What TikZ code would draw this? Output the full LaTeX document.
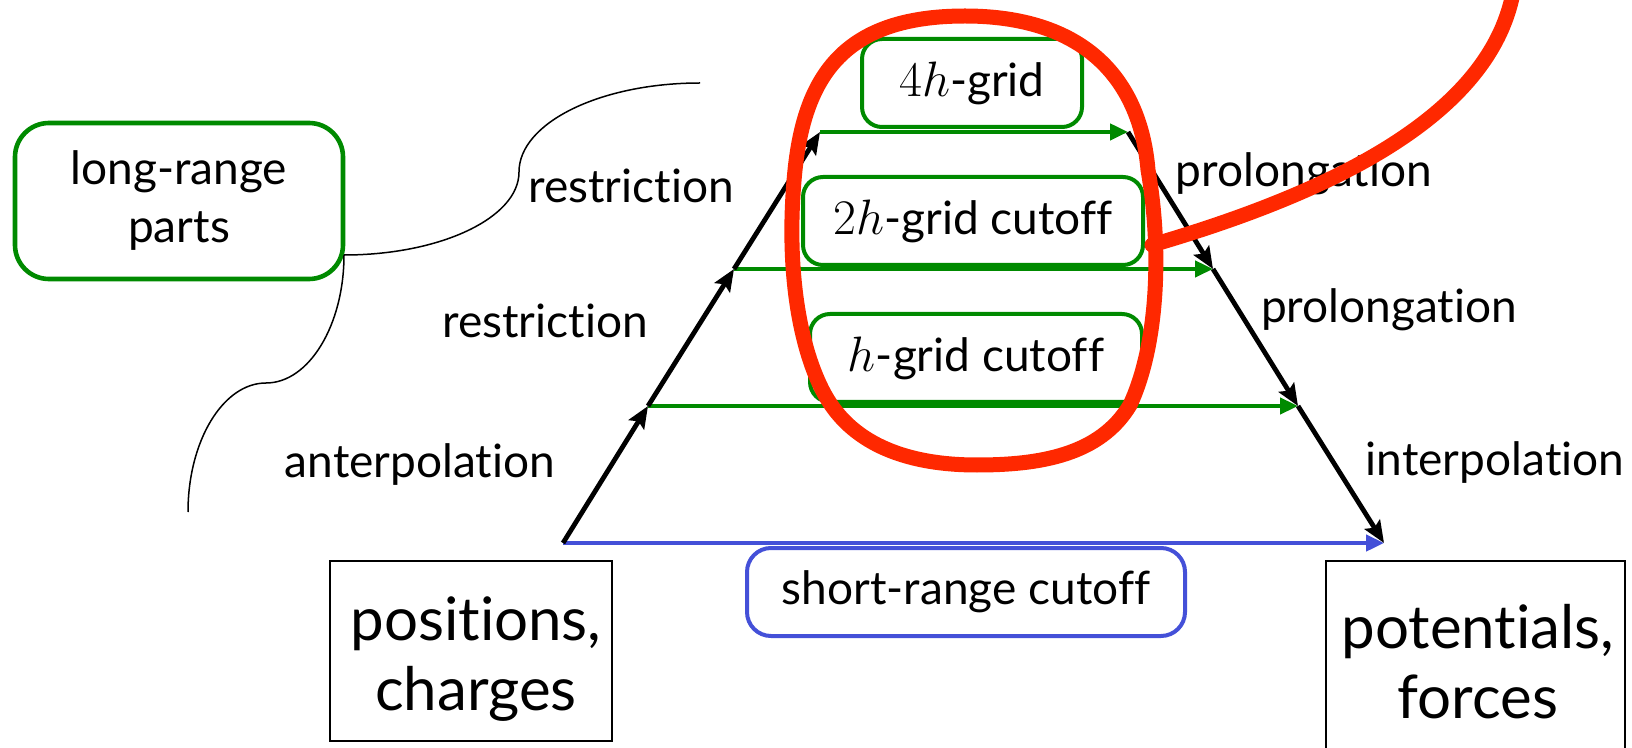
\documentclass[tikz,border=0pt]{standalone}
\usepackage{fontspec}
\setmainfont[Ligatures={NoCommon}]{Lato}
\usetikzlibrary{arrows.meta}
\definecolor{grn}{RGB}{0,138,0}
\definecolor{blu}{RGB}{68,80,216}
\definecolor{rd}{RGB}{255,40,0}
\newcommand\lblfont{\fontsize{23}{29}\selectfont}
\newcommand\bigfont{\fontsize{30}{35}\selectfont}
\begin{document}
\begin{tikzpicture}[x=0.5pt,y=-0.5pt,
  arr/.style={line width=2.4pt,-{Stealth[length=11pt,width=9pt,inset=2pt]}},
  garr/.style={grn,line width=2.4pt,-{Triangle[length=9pt,width=8pt]}},
  barr/.style={blu,line width=2.4pt,-{Triangle[length=9pt,width=8pt]}},
  gbox/.style={draw=grn,line width=2pt,rounded corners=10pt,inner sep=0pt,font=\lblfont},
  lbl/.style={anchor=base,inner sep=0pt,font=\lblfont},
  bbox/.style={draw=black,line width=0.8pt,inner sep=0pt},
  bigtxt/.style={inner sep=0pt,align=center,font=\bigfont},
  thin/.style={line width=0.75pt},
  redline/.style={rd,line width=7.5pt,line cap=round}]
\useasboundingbox (0,0) rectangle (1632,748);
\clip (0,0) rectangle (1632,748);

% triangle corners
\coordinate (L0) at (563,543);
\coordinate (L1) at (648,406);
\coordinate (L2) at (734,269);
\coordinate (L3) at (820,132);
\coordinate (R3) at (1128,132);
\coordinate (R2) at (1213,269);
\coordinate (R1) at (1298,406);
\coordinate (R0) at (1384,543);

% horizontal arrows
\draw[barr] (L0) -- (R0);
\draw[garr] (L1) -- (R1);
\draw[garr] (L2) -- (R2);
\draw[garr] (L3) -- (R3);

% side arrows
\draw[arr] (L0) -- (L1);
\draw[arr] (L1) -- (L2);
\draw[arr] (L2) -- (L3);
\draw[arr] (R3) -- (R2);
\draw[arr] (R2) -- (R1);
\draw[arr] (R1) -- (R0);

% labels
\node[lbl] (res1) at (631,203) {restriction};
\node[lbl] (res2) at (545,338) {restriction};
\node[lbl] (ant) at (420,477) {anterpolation};
\node[lbl] (pro1) at (1304,187) {prolongation};
\node[lbl] (pro2) at (1389,323) {prolongation};
\node[lbl] (int) at (1495,475) {interpolation};

% green boxes
\node[gbox,minimum width=110pt,minimum height=44pt] (g4) at (972,83) {$4h$-grid};
\node[gbox,minimum width=170pt,minimum height=44pt] (g2) at (973,221) {$2h$-grid cutoff};
\node[gbox,minimum width=166pt,minimum height=44pt] (g1) at (976,358) {$h$-grid cutoff};

% short-range box
\node[draw=blu,line width=2pt,rounded corners=12pt,inner sep=0pt,font=\lblfont,
      minimum width=219pt,minimum height=44pt] (sr) at (966,592) {short-range cutoff};

% long-range box
\node[draw=grn,line width=2.3pt,rounded corners=17pt,inner sep=0pt,align=center,font=\lblfont,
      minimum width=164pt,minimum height=78pt] (lr) at (179,201) {long-range\\parts};

% black boxes
\node[bbox,minimum width=141pt,minimum height=90pt] (pcbox) at (471,651) {};
\node[bigtxt] (pc) at (476,659) {positions,\\charges};
\draw[bbox] (1326,800) |- (1625,561) -- (1625,800);
\node[bigtxt] (pf) at (1478,662) {potentials,\\forces};

% brace-like thin curve
\coordinate (bt) at (344,255);
\coordinate (bupper) at (700,83);
\coordinate (blower) at (188,512);
\draw[thin] (bt) .. controls (440,255) and (519,218) .. (519,172)
               .. controls (519,123) and (600,83) .. (bupper);
\draw[thin] (bt) .. controls (344,325) and (309,383) .. (266,383)
               .. controls (223,383) and (188,441) .. (blower);

% red loop and tail
\coordinate (rtop) at (965,16);
\draw[redline] (rtop)
  .. controls (1080,16) and (1140,75) .. (1148,170)
  .. controls (1162,250) and (1158,345) .. (1130,405)
  .. controls (1100,455) and (1040,465) .. (977,465)
  .. controls (900,465) and (850,440) .. (825,395)
  .. controls (800,350) and (785,270) .. (795,170)
  .. controls (805,75) and (845,16) .. (rtop) -- cycle;
\coordinate (tailstart) at (1152,245);
\coordinate (tailend) at (1515,-20);
\draw[redline] (tailstart) .. controls (1340,190) and (1500,110) .. (tailend);
\end{tikzpicture}
\end{document}
